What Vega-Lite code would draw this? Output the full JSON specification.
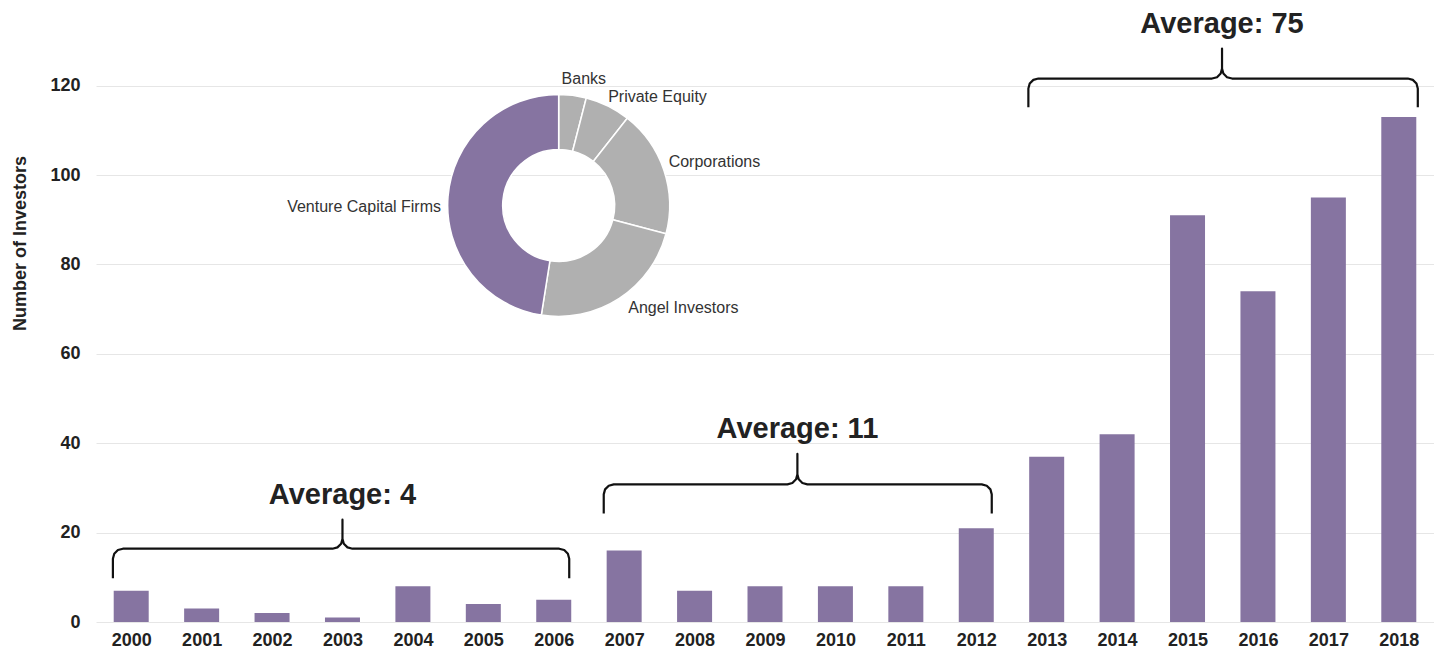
{
  "$schema": "https://vega.github.io/schema/vega-lite/v6.json",
  "width": 1338,
  "height": 581,
  "autosize": {"type": "none"},
  "padding": {"left": 96, "top": 41, "right": 0, "bottom": 30},
  "background": "white",
  "config": {
    "font": "Liberation Sans",
    "view": {"stroke": null}
  },
  "datasets": {
    "investors": [
      {"year": 2000, "value": 7}, {"year": 2001, "value": 3}, {"year": 2002, "value": 2},
      {"year": 2003, "value": 1}, {"year": 2004, "value": 8}, {"year": 2005, "value": 4},
      {"year": 2006, "value": 5}, {"year": 2007, "value": 16}, {"year": 2008, "value": 7},
      {"year": 2009, "value": 8}, {"year": 2010, "value": 8}, {"year": 2011, "value": 8},
      {"year": 2012, "value": 21}, {"year": 2013, "value": 37}, {"year": 2014, "value": 42},
      {"year": 2015, "value": 91}, {"year": 2016, "value": 74}, {"year": 2017, "value": 95},
      {"year": 2018, "value": 113}
    ],
    "types": [
      {"cat": "Banks", "share": 4.0, "ord": 1},
      {"cat": "Private Equity", "share": 6.6, "ord": 2},
      {"cat": "Corporations", "share": 18.5, "ord": 3},
      {"cat": "Angel Investors", "share": 23.4, "ord": 4},
      {"cat": "Venture Capital Firms", "share": 47.5, "ord": 5}
    ],
    "braces": [
      {"brace": 1, "seq": 1, "year": 1999.74, "value": 9.8},
      {"brace": 1, "seq": 2, "year": 1999.74, "value": 14.16},
      {"brace": 1, "seq": 3, "year": 1999.759, "value": 15.28},
      {"brace": 1, "seq": 4, "year": 1999.811, "value": 16.1},
      {"brace": 1, "seq": 5, "year": 1999.882, "value": 16.4},
      {"brace": 1, "seq": 6, "year": 2002.858, "value": 16.4},
      {"brace": 1, "seq": 7, "year": 2002.929, "value": 16.7},
      {"brace": 1, "seq": 8, "year": 2002.981, "value": 17.52},
      {"brace": 1, "seq": 9, "year": 2003.0, "value": 18.64},
      {"brace": 1, "seq": 10, "year": 2003.0, "value": 22.9},
      {"brace": 1, "seq": 11, "year": 2003.0, "value": 18.64},
      {"brace": 1, "seq": 12, "year": 2003.019, "value": 17.52},
      {"brace": 1, "seq": 13, "year": 2003.071, "value": 16.7},
      {"brace": 1, "seq": 14, "year": 2003.142, "value": 16.4},
      {"brace": 1, "seq": 15, "year": 2006.078, "value": 16.4},
      {"brace": 1, "seq": 16, "year": 2006.149, "value": 16.1},
      {"brace": 1, "seq": 17, "year": 2006.201, "value": 15.28},
      {"brace": 1, "seq": 18, "year": 2006.22, "value": 14.16},
      {"brace": 1, "seq": 19, "year": 2006.22, "value": 9.8},
      {"brace": 2, "seq": 1, "year": 2006.71, "value": 24.3},
      {"brace": 2, "seq": 2, "year": 2006.71, "value": 28.56},
      {"brace": 2, "seq": 3, "year": 2006.729, "value": 29.68},
      {"brace": 2, "seq": 4, "year": 2006.781, "value": 30.5},
      {"brace": 2, "seq": 5, "year": 2006.852, "value": 30.8},
      {"brace": 2, "seq": 6, "year": 2009.318, "value": 30.8},
      {"brace": 2, "seq": 7, "year": 2009.389, "value": 31.1},
      {"brace": 2, "seq": 8, "year": 2009.441, "value": 31.92},
      {"brace": 2, "seq": 9, "year": 2009.46, "value": 33.04},
      {"brace": 2, "seq": 10, "year": 2009.46, "value": 37.6},
      {"brace": 2, "seq": 11, "year": 2009.46, "value": 33.04},
      {"brace": 2, "seq": 12, "year": 2009.479, "value": 31.92},
      {"brace": 2, "seq": 13, "year": 2009.531, "value": 31.1},
      {"brace": 2, "seq": 14, "year": 2009.602, "value": 30.8},
      {"brace": 2, "seq": 15, "year": 2012.078, "value": 30.8},
      {"brace": 2, "seq": 16, "year": 2012.149, "value": 30.5},
      {"brace": 2, "seq": 17, "year": 2012.201, "value": 29.68},
      {"brace": 2, "seq": 18, "year": 2012.22, "value": 28.56},
      {"brace": 2, "seq": 19, "year": 2012.22, "value": 24.3},
      {"brace": 3, "seq": 1, "year": 2012.74, "value": 115.2},
      {"brace": 3, "seq": 2, "year": 2012.74, "value": 119.36},
      {"brace": 3, "seq": 3, "year": 2012.759, "value": 120.48},
      {"brace": 3, "seq": 4, "year": 2012.811, "value": 121.3},
      {"brace": 3, "seq": 5, "year": 2012.882, "value": 121.6},
      {"brace": 3, "seq": 6, "year": 2015.348, "value": 121.6},
      {"brace": 3, "seq": 7, "year": 2015.419, "value": 121.9},
      {"brace": 3, "seq": 8, "year": 2015.471, "value": 122.72},
      {"brace": 3, "seq": 9, "year": 2015.49, "value": 123.84},
      {"brace": 3, "seq": 10, "year": 2015.49, "value": 128.3},
      {"brace": 3, "seq": 11, "year": 2015.49, "value": 123.84},
      {"brace": 3, "seq": 12, "year": 2015.509, "value": 122.72},
      {"brace": 3, "seq": 13, "year": 2015.561, "value": 121.9},
      {"brace": 3, "seq": 14, "year": 2015.632, "value": 121.6},
      {"brace": 3, "seq": 15, "year": 2018.128, "value": 121.6},
      {"brace": 3, "seq": 16, "year": 2018.199, "value": 121.3},
      {"brace": 3, "seq": 17, "year": 2018.251, "value": 120.48},
      {"brace": 3, "seq": 18, "year": 2018.27, "value": 119.36},
      {"brace": 3, "seq": 19, "year": 2018.27, "value": 115.2}
    ],
    "averages": [
      {"label": "Average: 4", "year": 2003.0, "value": 22.9},
      {"label": "Average: 11", "year": 2009.46, "value": 37.6},
      {"label": "Average: 75", "year": 2015.49, "value": 128.3}
    ]
  },
  "layer": [
    {
      "data": {"name": "investors"},
      "mark": {"type": "bar", "size": 35, "color": "#8674a1"},
      "encoding": {
        "x": {
          "field": "year", "type": "quantitative",
          "scale": {"domain": [1999.5, 2018.5], "nice": false, "zero": false, "padding": 0},
          "axis": {
            "title": null, "values": [2000,2001,2002,2003,2004,2005,2006,2007,2008,2009,2010,2011,2012,2013,2014,2015,2016,2017,2018],
            "format": "d", "grid": false, "ticks": false, "domain": false,
            "labelFontSize": 18, "labelFontWeight": "bold", "labelColor": "#222222",
            "labelPadding": 9, "labelFlush": false, "labelOverlap": false
          }
        },
        "y": {
          "field": "value", "type": "quantitative",
          "scale": {"domain": [0, 130], "nice": false, "padding": 0},
          "axis": {
            "title": "Number of Investors", "values": [0, 20, 40, 60, 80, 100, 120],
            "grid": true, "gridColor": "#e6e6e6", "gridWidth": 1,
            "ticks": false, "domain": false,
            "labelFontSize": 18, "labelFontWeight": "bold", "labelColor": "#222222",
            "labelPadding": 16,
            "titleFontSize": 18, "titleFontWeight": "bold", "titleColor": "#222222",
            "titleAngle": -90, "titleX": -71, "titleY": 202,
            "titleAlign": "center", "titleBaseline": "alphabetic"
          }
        }
      }
    },
    {
      "data": {"name": "types"},
      "mark": {"type": "arc", "outerRadius": 111, "innerRadius": 56, "stroke": "white", "strokeWidth": 1.5},
      "encoding": {
        "x": {"datum": 2006.07, "type": "quantitative"},
        "y": {"datum": 93.2, "type": "quantitative"},
        "theta": {"field": "share", "type": "quantitative", "stack": true},
        "order": {"field": "ord", "type": "quantitative"},
        "color": {
          "field": "cat", "type": "nominal", "legend": null,
          "scale": {
            "domain": ["Banks", "Private Equity", "Corporations", "Angel Investors", "Venture Capital Firms"],
            "range": ["#b0b0b0", "#b0b0b0", "#b0b0b0", "#b0b0b0", "#8674a1"]
          }
        }
      }
    },
    {
      "data": {"name": "types"},
      "mark": {"type": "text", "radius": 129, "dx": 9, "dy": 2, "align": "center", "baseline": "middle", "fontSize": 16, "color": "#333333"},
      "encoding": {
        "x": {"datum": 2006.07, "type": "quantitative"},
        "y": {"datum": 93.2, "type": "quantitative"},
        "theta": {"field": "share", "type": "quantitative", "stack": true},
        "order": {"field": "ord", "type": "quantitative"},
        "detail": {"field": "cat", "type": "nominal"},
        "text": {"condition": {"test": "datum.cat !== 'Banks'", "value": ""}, "field": "cat", "type": "nominal"}
      }
    },
    {
      "data": {"name": "types"},
      "mark": {"type": "text", "radius": 123, "dx": -5, "dy": 2, "align": "left", "baseline": "middle", "fontSize": 16, "color": "#333333"},
      "encoding": {
        "x": {"datum": 2006.07, "type": "quantitative"},
        "y": {"datum": 93.2, "type": "quantitative"},
        "theta": {"field": "share", "type": "quantitative", "stack": true},
        "order": {"field": "ord", "type": "quantitative"},
        "detail": {"field": "cat", "type": "nominal"},
        "text": {"condition": {"test": "datum.cat !== 'Private Equity'", "value": ""}, "field": "cat", "type": "nominal"}
      }
    },
    {
      "data": {"name": "types"},
      "mark": {"type": "text", "radius": 116, "dy": -7, "align": "left", "baseline": "middle", "fontSize": 16, "color": "#333333"},
      "encoding": {
        "x": {"datum": 2006.07, "type": "quantitative"},
        "y": {"datum": 93.2, "type": "quantitative"},
        "theta": {"field": "share", "type": "quantitative", "stack": true},
        "order": {"field": "ord", "type": "quantitative"},
        "detail": {"field": "cat", "type": "nominal"},
        "text": {"condition": {"test": "datum.cat !== 'Corporations'", "value": ""}, "field": "cat", "type": "nominal"}
      }
    },
    {
      "data": {"name": "types"},
      "mark": {"type": "text", "radius": 120, "dx": 4, "dy": 2, "align": "left", "baseline": "middle", "fontSize": 16, "color": "#333333"},
      "encoding": {
        "x": {"datum": 2006.07, "type": "quantitative"},
        "y": {"datum": 93.2, "type": "quantitative"},
        "theta": {"field": "share", "type": "quantitative", "stack": true},
        "order": {"field": "ord", "type": "quantitative"},
        "detail": {"field": "cat", "type": "nominal"},
        "text": {"condition": {"test": "datum.cat !== 'Angel Investors'", "value": ""}, "field": "cat", "type": "nominal"}
      }
    },
    {
      "data": {"name": "types"},
      "mark": {"type": "text", "radius": 118, "dy": 11, "align": "right", "baseline": "middle", "fontSize": 16, "color": "#333333"},
      "encoding": {
        "x": {"datum": 2006.07, "type": "quantitative"},
        "y": {"datum": 93.2, "type": "quantitative"},
        "theta": {"field": "share", "type": "quantitative", "stack": true},
        "order": {"field": "ord", "type": "quantitative"},
        "detail": {"field": "cat", "type": "nominal"},
        "text": {"condition": {"test": "datum.cat !== 'Venture Capital Firms'", "value": ""}, "field": "cat", "type": "nominal"}
      }
    },
    {
      "data": {"name": "braces"},
      "mark": {"type": "line", "interpolate": "linear", "color": "#111111", "strokeWidth": 2.2, "strokeJoin": "round", "strokeCap": "butt"},
      "encoding": {
        "x": {"field": "year", "type": "quantitative"},
        "y": {"field": "value", "type": "quantitative"},
        "detail": {"field": "brace", "type": "nominal"},
        "order": {"field": "seq", "type": "quantitative"}
      }
    },
    {
      "data": {"name": "averages"},
      "mark": {"type": "text", "fontSize": 29, "fontWeight": "bold", "align": "center", "baseline": "alphabetic", "dy": -16, "color": "#222222"},
      "encoding": {
        "x": {"field": "year", "type": "quantitative"},
        "y": {"field": "value", "type": "quantitative"},
        "text": {"field": "label", "type": "nominal"}
      }
    }
  ]
}
